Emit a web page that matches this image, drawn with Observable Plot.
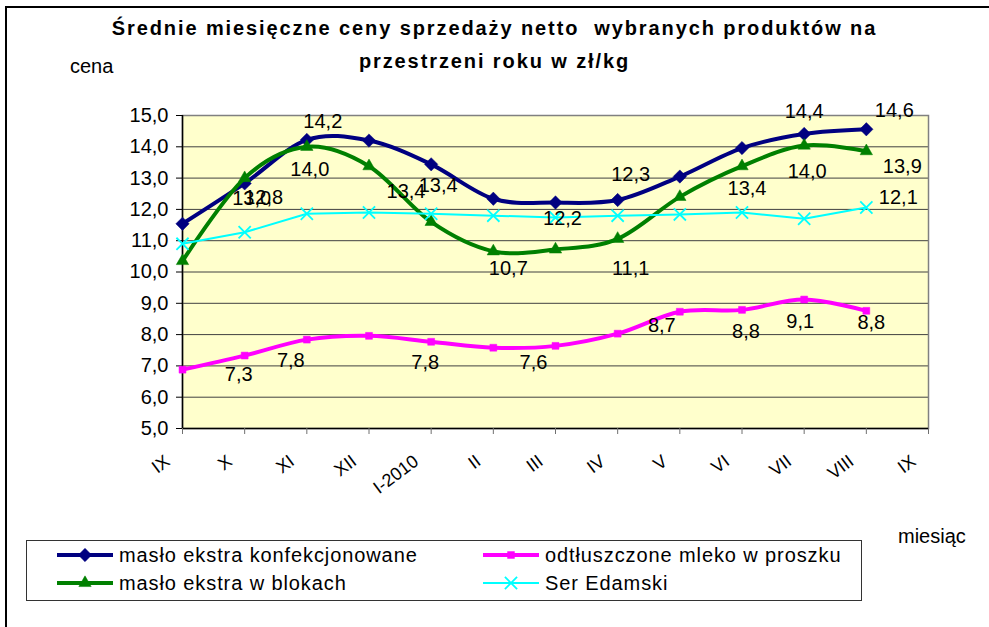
<!DOCTYPE html>
<html><head><meta charset="utf-8">
<script src="https://cdn.jsdelivr.net/npm/d3@7"></script>
<script src="https://cdn.jsdelivr.net/npm/@observablehq/plot@0.6"></script>
<style>
html,body{margin:0;padding:0;background:#fff;overflow:hidden}
#wrap{position:relative;width:989px;height:627px;font-family:"Liberation Sans",Arial,sans-serif;color:#000;overflow:hidden}
#frame{position:absolute;left:5px;top:6px;width:1100px;height:800px;border-left:2px solid #000;border-top:2px solid #000}
#chart{position:absolute;left:0;top:0}
#title{position:absolute;left:0;width:989px;top:12px;text-align:center;font-weight:bold;font-size:20px;line-height:33px;letter-spacing:1.9px}
#ylab{position:absolute;left:70px;top:54px;font-size:20px;line-height:24px}
#xlab{position:absolute;left:898px;top:524px;font-size:20px;line-height:24px}
#legend{position:absolute;left:26px;top:540px;width:836px;height:61px;border:1px solid #333;box-sizing:border-box}
.item{position:absolute;height:24px;display:flex;align-items:center;font-size:20px;letter-spacing:0.9px;white-space:nowrap}
.item svg{margin-right:4px}
</style></head>
<body>
<div id="wrap">
  <div id="frame"></div>
  <div id="chart"></div>
  <div id="title">Średnie miesięczne ceny sprzedaży netto&nbsp; wybranych produktów na<br>przestrzeni roku w zł/kg</div>
  <div id="ylab">cena</div>
  <div id="xlab">miesiąc</div>
  <div id="legend"></div>
</div>
<script>
// ---- data ----
const months = ["IX","X","XI","XII","I-2010","II","III","IV","V","VI","VII","VIII","IX"];
const yTicks = [5,6,7,8,9,10,11,12,13,14,15];
const seriesNames = ["masło ekstra konfekcjonowane","odtłuszczone mleko w proszku","masło ekstra w blokach","Ser Edamski"];
const masloKonf = [11.54,12.83,14.22,14.2,13.44,12.34,12.22,12.3,13.05,13.96,14.41,14.56];
const mleko     = [6.88,7.33,7.84,7.96,7.77,7.58,7.64,8.03,8.73,8.79,9.12,8.76];
const masloBlok = [10.35,13.0,14.0,13.38,11.6,10.66,10.72,11.06,12.4,13.38,14.04,13.86];
const ser       = [10.9,11.27,11.86,11.9,11.86,11.8,11.74,11.8,11.84,11.9,11.7,12.06];

// ---- styling (separate from data) ----
const styles = [
  {values: masloKonf, color: "#000080", width: 4, curve: "cardinal", symbol: "diamond2", r: 6},
  {values: mleko,     color: "#FF00FF", width: 4, curve: "cardinal", symbol: "square",   r: 3.9},
  {values: masloBlok, color: "#008000", width: 4, curve: "cardinal", symbol: "triangle", r: 4.6},
  {values: ser,       color: "#00FFFF", width: 2, curve: "linear",   symbol: "times",    r: 5.6}
];
// which data labels are shown and where they sit relative to their point
const labelSpots = [
  [0,1,19,14],[0,2,16,-18],[0,4,7,21],[0,6,7,16],[0,7,13,-25],[0,10,0,-22],[0,11,28,-19],
  [2,1,7,20],[2,2,3,23],[2,3,37,25],[2,5,15,17],[2,7,13,30],[2,9,5,22],[2,10,3,26],[2,11,36,15],
  [3,11,32,-10],
  [1,1,-6,19],[1,2,-16,21],[1,4,-6,21],[1,6,-22,17],[1,8,-18,14],[1,9,4,22],[1,10,-4,22],[1,11,5,12]
];

const fmt = v => v.toFixed(1).replace(".", ",");
const rows = s => styles[s].values.map((v, i) => ({i, v}));
const tickIdx = d3.range(months.length);

const marks = [
  Plot.frame({fill: "#FFFFCC"}),
  Plot.ruleY(yTicks.filter(t => t > 5 && t < 15), {stroke: "#404040", strokeWidth: 1}),
  Plot.frame({stroke: "#808080", strokeWidth: 1.5}),
  Plot.ruleX([0], {stroke: "#000", strokeWidth: 1.5}),
  Plot.ruleY([5], {stroke: "#000", strokeWidth: 1.5}),
  Plot.axisY({ticks: yTicks, tickFormat: fmt, tickSize: 6, tickPadding: 8, fontSize: 20, label: null, stroke: "#000"}),
  Plot.axisX({ticks: tickIdx, tickFormat: () => "", tickSize: 6, label: null, stroke: "#707070"}),
  Plot.text(tickIdx, {x: d => d, text: d => months[d], frameAnchor: "bottom", rotate: -37,
    textAnchor: "end", lineAnchor: "top", dx: -19, dy: 25, fontSize: 18, fill: "#000"})
];
[0, 1, 2, 3].forEach(s => {
  const st = styles[s];
  marks.push(Plot.line(rows(s), {x: "i", y: "v", stroke: st.color, strokeWidth: st.width, curve: st.curve}));
  const filled = st.symbol !== "times";
  marks.push(Plot.dot(rows(s), {x: "i", y: "v", symbol: () => st.symbol, r: st.r,
    fill: filled ? st.color : "none", stroke: st.color, strokeWidth: filled ? 0.5 : 1.8}));
});
labelSpots.forEach(([s, i, dx, dy]) => {
  marks.push(Plot.text(rows(s).filter(d => d.i === i), {x: "i", y: "v", text: d => fmt(d.v), dx, dy,
    fontSize: 20, fill: "#000", textAnchor: "middle", lineAnchor: "middle"}));
});

const chart = Plot.plot({
  width: 989, height: 627,
  marginLeft: 182, marginRight: 61, marginTop: 115, marginBottom: 199,
  x: {type: "linear", domain: [0, 12]},
  y: {domain: [5, 15]},
  style: {fontFamily: "'Liberation Sans', Arial, sans-serif", fontSize: "20px", background: "transparent", color: "#000", overflow: "visible"},
  marks
});
document.getElementById("chart").appendChild(chart);

// ---- legend ----
const legend = d3.select("#legend");
const pos = [[30, 2], [456, 2], [30, 30], [456, 30]];
const symMap = {diamond2: d3.symbolDiamond2, square: d3.symbolSquare, triangle: d3.symbolTriangle, times: d3.symbolTimes};
seriesNames.forEach((name, s) => {
  const st = styles[s];
  const it = legend.append("div").attr("class", "item").style("left", pos[s][0] + "px").style("top", pos[s][1] + "px");
  const svg = it.append("svg").attr("width", 58).attr("height", 24);
  svg.append("line").attr("x1", 0).attr("x2", 56).attr("y1", 12).attr("y2", 12).attr("stroke", st.color).attr("stroke-width", st.width);
  const filled = st.symbol !== "times";
  svg.append("path").attr("transform", "translate(28,12)")
    .attr("d", d3.symbol(symMap[st.symbol], Math.PI * st.r * st.r)())
    .attr("fill", filled ? st.color : "none").attr("stroke", st.color).attr("stroke-width", filled ? 0.5 : 1.8);
  it.append("span").text(name);
});
</script>
</body></html>
